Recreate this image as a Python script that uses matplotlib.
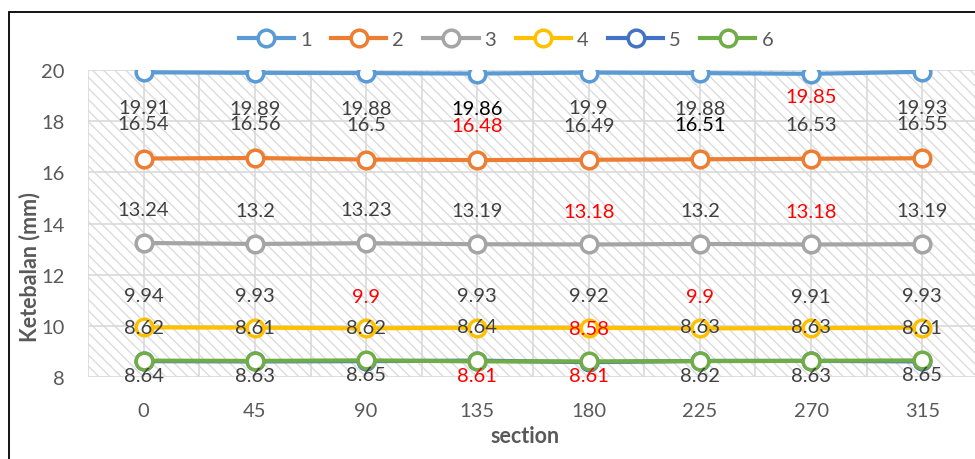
import matplotlib.pyplot as plt
from matplotlib.patches import Rectangle
from matplotlib.lines import Line2D

# data
sections = ['0', '45', '90', '135', '180', '225', '270', '315']
s1 = [19.91, 19.89, 19.88, 19.86, 19.9, 19.88, 19.85, 19.93]
s2 = [16.54, 16.56, 16.5, 16.48, 16.49, 16.51, 16.53, 16.55]
s3 = [13.24, 13.2, 13.23, 13.19, 13.18, 13.2, 13.18, 13.19]
s4 = [9.94, 9.93, 9.9, 9.93, 9.92, 9.9, 9.91, 9.93]
s5 = [8.62, 8.61, 8.62, 8.64, 8.58, 8.63, 8.63, 8.61]
s6 = [8.64, 8.63, 8.65, 8.61, 8.61, 8.62, 8.63, 8.65]
series_names = ['1', '2', '3', '4', '5', '6']

G = '#404040'
R = '#ff0000'
K = '#000000'
label_colors = [
    [G, G, G, K, G, G, R, G],
    [G, G, G, R, G, K, G, G],
    [G, G, G, G, R, G, R, G],
    [G, G, R, G, G, R, G, G],
    [G, G, G, G, R, G, G, G],
    [G, G, G, R, R, G, G, G],
]
colors = ['#5B9BD5', '#ED7D31', '#A5A5A5', '#FFC000', '#4472C4', '#70AD47']
# label offsets in points (vertical)
offsets = [-25.5, 25, 24, 23, 24.5, -10.5]

plt.rcParams['font.family'] = ['Lato', 'DejaVu Sans']

fig = plt.figure(figsize=(9.75, 4.6), dpi=100)
ax = fig.add_axes([88 / 975, 1 - 378 / 460, 890 / 975, 307 / 460])

# outer chart border
fig.add_artist(Rectangle((9 / 975, -0.02), 1.0, 1 - 13 / 460 + 0.02,
                         transform=fig.transFigure, fill=False,
                         edgecolor='black', linewidth=1.3))

# hatched plot background
ax.add_patch(Rectangle((0, 0), 1, 1, transform=ax.transAxes, facecolor='white',
                       edgecolor='#dcdcdc', linewidth=0, hatch='\\\\\\', zorder=0))

x = list(range(len(sections)))
all_series = [s1, s2, s3, s4, s5, s6]
for i, vals in enumerate(all_series):
    ax.plot(x, vals, color=colors[i], linewidth=3, marker='o',
            markersize=12, markerfacecolor='white', markeredgecolor=colors[i],
            markeredgewidth=2.5, zorder=3 + i, label=series_names[i])

for i, vals in enumerate(all_series):
    for j, v in enumerate(vals):
        dy = offsets[i]
        if i == 0 and j == 6:
            dy = -16
        ax.annotate(f'{v:g}', xy=(j, v), xytext=(0, dy), textcoords='offset points',
                    ha='center', va='center', fontsize=14.5,
                    color=label_colors[i][j], zorder=10)

ax.set_xlim(-0.5, len(sections) - 0.5)
ax.set_ylim(8, 20)
ax.set_yticks([8, 10, 12, 14, 16, 18, 20])
ax.set_xticks(x)
ax.set_xticklabels(sections)
ax.set_xticks([k + 0.5 for k in range(-1, len(sections))], minor=True)
ax.tick_params(which='both', length=0)
ax.tick_params(axis='both', labelsize=14.5, labelcolor='#595959')
ax.tick_params(axis='x', pad=18)
ax.tick_params(axis='y', pad=17)
ax.grid(True, which='major', color='#d9d9d9', linewidth=1.2)
ax.grid(True, which='minor', axis='x', color='#d9d9d9', linewidth=1.2)
ax.set_axisbelow(True)
for sp in ax.spines.values():
    sp.set_visible(False)

fig.text(30 / 975, 1 - 267 / 460, 'Ketebalan (mm)', rotation=90, ha='center',
         va='center', fontsize=15.5, fontweight='bold', color='#595959')
fig.text(525 / 975, 1 - 437 / 460, 'section', ha='center', va='center',
         fontsize=15.5, fontweight='bold', color='#595959')

handles = [Line2D([], [], color=c, linewidth=3, marker='o', markersize=12,
                  markerfacecolor='white', markeredgecolor=c, markeredgewidth=2.5)
           for c in colors]
fig.legend(handles, series_names, loc='center', bbox_to_anchor=(506 / 975, 1 - 40 / 460),
           ncol=6, frameon=False, fontsize=14.5, labelcolor='#595959',
           handlelength=2.75, handletextpad=0.3, columnspacing=0.95)

fig.savefig('out.png', dpi=100)
